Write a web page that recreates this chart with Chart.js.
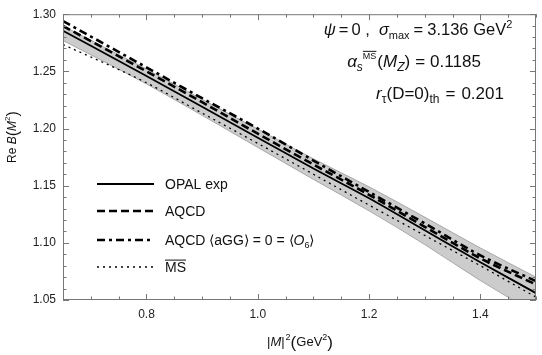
<!DOCTYPE html>
<html>
<head>
<meta charset="utf-8">
<script src="https://cdn.jsdelivr.net/npm/chart.js@4"></script>
<style>
  html, body { margin: 0; padding: 0; background: #fff; }
  #caixa { width: 542px; height: 355px; }
</style>
</head>
<body>
<div id="caixa"><canvas id="graficoB"></canvas></div>
<script>
// valores
const xValores = [0.65, 0.8, 0.9, 1.0, 1.1, 1.2, 1.3, 1.4, 1.5];
const opalExp  = [1.2855, 1.246, 1.219, 1.192, 1.165, 1.139, 1.111, 1.083, 1.056];
const aqcd     = [1.2897, 1.250, 1.223, 1.1955, 1.1685, 1.142, 1.114, 1.0865, 1.0635];
const aqcdZero = [1.294, 1.2535, 1.2265, 1.200, 1.172, 1.1445, 1.117, 1.089, 1.0665];
const msBar    = [1.2735, 1.240, 1.2135, 1.187, 1.160, 1.133, 1.1065, 1.080, 1.0525];
const faixaSup = [1.2897, 1.252, 1.2255, 1.1995, 1.1735, 1.149, 1.1225, 1.0955, 1.0700];
const faixaInf = [1.2770, 1.239, 1.2115, 1.1835, 1.1555, 1.128, 1.0985, 1.0670, 1.0380];
const xTicks = [0.8, 1.0, 1.2, 1.4];
const yTicks = [1.05, 1.10, 1.15, 1.20, 1.25, 1.30];

const FONTE = '"Liberation Sans", Arial, Helvetica, sans-serif';

function pontos(ys) {
    return xValores.map((x, i) => ({ x: x, y: ys[i] }));
}

// desenha texto com partes em itálico, índices e barras
function textoRico(ctx, partes, x, y, alinhar) {
    let total = 0;
    partes.forEach(p => {
        ctx.font = (p.it ? 'italic ' : '') + p.tam + 'px ' + FONTE;
        total += ctx.measureText(p.t).width + (p.esp || 0);
    });
    if (alinhar === 'center') x -= total / 2;
    ctx.textAlign = 'left';
    ctx.textBaseline = 'alphabetic';
    partes.forEach(p => {
        ctx.font = (p.it ? 'italic ' : '') + p.tam + 'px ' + FONTE;
        const w = ctx.measureText(p.t).width;
        ctx.fillText(p.t, x, y + (p.dy || 0));
        if (p.barra) {
            ctx.save();
            ctx.lineWidth = 1;
            ctx.beginPath();
            ctx.moveTo(x, y + (p.dy || 0) - p.tam * 0.85);
            ctx.lineTo(x + w, y + (p.dy || 0) - p.tam * 0.85);
            ctx.stroke();
            ctx.restore();
        }
        x += w + (p.esp || 0);
    });
}

const pluginMoldura = {
    id: 'moldura',
    afterDraw(chart) {
        const ctx = chart.ctx;
        const a = chart.chartArea;
        const sx = chart.scales.x, sy = chart.scales.y;
        ctx.save();
        ctx.strokeStyle = '#777';
        ctx.lineWidth = 1;
        ctx.strokeRect(a.left + 0.5, a.top + 0.5, a.right - a.left - 1, a.bottom - a.top - 1);
        ctx.beginPath();
        for (let v = 0.65; v <= 1.5001; v += 0.05) {
            const px = Math.round(sx.getPixelForValue(v)) + 0.5;
            const maior = xTicks.some(t => Math.abs(t - v) < 1e-6);
            const l = maior ? 6 : 3.5;
            ctx.moveTo(px, a.bottom); ctx.lineTo(px, a.bottom - l);
            ctx.moveTo(px, a.top); ctx.lineTo(px, a.top + l);
        }
        for (let v = 1.05; v <= 1.3001; v += 0.01) {
            const py = Math.round(sy.getPixelForValue(v)) + 0.5;
            const maior = yTicks.some(t => Math.abs(t - v) < 1e-6);
            const l = maior ? 6 : 3.5;
            ctx.moveTo(a.left, py); ctx.lineTo(a.left + l, py);
            ctx.moveTo(a.right, py); ctx.lineTo(a.right - l, py);
        }
        ctx.stroke();

        ctx.fillStyle = '#111';
        ctx.strokeStyle = '#111';
        // títulos dos eixos
        textoRico(ctx, [
            { t: '|', tam: 13 }, { t: 'M', tam: 13, it: true }, { t: '|', tam: 13, esp: 1 },
            { t: '2', tam: 9, dy: -6 }, { t: '(', tam: 17, dy: 2 },
            { t: 'GeV', tam: 13 }, { t: '2', tam: 9, dy: -6 }, { t: ')', tam: 17, dy: 2 }
        ], 300, 346, 'center');

        ctx.save();
        ctx.translate(12, 137);
        ctx.rotate(-Math.PI / 2);
        textoRico(ctx, [
            { t: 'Re ', tam: 12 }, { t: 'B', tam: 12, it: true },
            { t: '(', tam: 16, dy: 2 }, { t: 'M', tam: 12, it: true },
            { t: '2', tam: 8, dy: -6 }, { t: ')', tam: 16, dy: 2 }
        ], 0, 4, 'center');
        ctx.restore();

        // anotações
        textoRico(ctx, [
            { t: 'ψ', tam: 16.5, it: true, esp: 3 }, { t: '=', tam: 16.5, esp: 3 }, { t: '0 ,  ', tam: 16.5 },
            { t: 'σ', tam: 16.5, it: true }, { t: 'max', tam: 11, dy: 4, esp: 4 },
            { t: '=', tam: 16.5, esp: 4 }, { t: '3.136 GeV', tam: 16.5 }, { t: '2', tam: 11, dy: -7 }
        ], 418, 35, 'center');
        textoRico(ctx, [
            { t: 'α', tam: 17, it: true }, { t: 's', tam: 12, it: true, dy: 4 },
            { t: 'MS', tam: 9, dy: -8, barra: true, esp: 1 },
            { t: '(', tam: 17 }, { t: 'M', tam: 17, it: true }, { t: 'Z', tam: 12, it: true, dy: 4 },
            { t: ')', tam: 17, esp: 5 }, { t: '=', tam: 17, esp: 5 }, { t: '0.1185', tam: 17 }
        ], 414, 67, 'center');
        textoRico(ctx, [
            { t: 'r', tam: 17, it: true }, { t: 'τ', tam: 12, dy: 4 },
            { t: '(D=0)', tam: 17 }, { t: 'th', tam: 12, dy: 4, esp: 6 },
            { t: '=', tam: 17, esp: 6 }, { t: '0.201', tam: 17 }
        ], 440, 99, 'center');

        // legenda
        const rotulos = [
            [{ t: 'OPAL exp', tam: 14 }],
            [{ t: 'AQCD', tam: 14 }],
            [{ t: 'AQCD ⟨aGG⟩ = 0 = ⟨', tam: 14 }, { t: 'O', tam: 14, it: true },
             { t: '6', tam: 9, dy: 3 }, { t: '⟩', tam: 14 }],
            [{ t: 'MS', tam: 14, barra: true }]
        ];
        const linhasY = [184, 211, 240, 267];
        rotulos.forEach((r, i) => {
            const ds = chart.data.datasets[i];
            ctx.save();
            ctx.strokeStyle = ds.borderColor;
            ctx.lineWidth = ds.borderWidth;
            ctx.setLineDash(ds.borderDash || []);
            ctx.beginPath();
            ctx.moveTo(97, linhasY[i]);
            ctx.lineTo(154, linhasY[i]);
            ctx.stroke();
            ctx.restore();
            textoRico(ctx, r, 165, linhasY[i] + 5);
        });
        ctx.restore();
    }
};

function criarGrafico() {
    const ctx = document.getElementById('graficoB').getContext('2d');
    window.graficoB = new Chart(ctx, {
        type: 'line',
        data: {
            datasets: [
                { label: 'OPAL exp', data: pontos(opalExp), borderColor: '#000', borderWidth: 1.8, order: 1 },
                { label: 'AQCD', data: pontos(aqcd), borderColor: '#000', borderWidth: 2.6, borderDash: [8, 4], order: 1 },
                { label: 'AQCD <aGG> = 0 = <O6>', data: pontos(aqcdZero), borderColor: '#000', borderWidth: 2.6, borderDash: [8, 4, 3, 4], order: 1 },
                { label: 'MS', data: pontos(msBar), borderColor: '#000', borderWidth: 1.3, borderDash: [2, 4], order: 1 },
                { label: 'faixa inf', data: pontos(faixaInf), borderColor: '#999', borderWidth: 0.8, fill: false, order: 2 },
                { label: 'faixa sup', data: pontos(faixaSup), borderColor: '#999', borderWidth: 0.8, fill: '-1', backgroundColor: '#cccccc', order: 2 }
            ]
        },
        options: {
            responsive: true,
            maintainAspectRatio: false,
            animation: false,
            devicePixelRatio: 1,
            layout: { padding: { left: 0, right: 6, top: 8, bottom: 0 } },
            elements: {
                point: { radius: 0 },
                line: { cubicInterpolationMode: 'monotone' }
            },
            plugins: {
                legend: { display: false },
                tooltip: { enabled: false }
            },
            scales: {
                x: {
                    type: 'linear',
                    min: 0.65,
                    max: 1.5,
                    grid: { display: false, drawTicks: false },
                    border: { display: false },
                    afterBuildTicks: s => { s.ticks = xTicks.map(v => ({ value: v })); },
                    afterFit: s => { s.height = 55; },
                    ticks: {
                        padding: 7,
                        maxRotation: 0,
                        autoSkip: false,
                        color: '#222',
                        font: { family: FONTE, size: 12 },
                        callback: v => v.toFixed(1)
                    }
                },
                y: {
                    type: 'linear',
                    min: 1.05,
                    max: 1.30,
                    grid: { display: false, drawTicks: false },
                    border: { display: false },
                    afterBuildTicks: s => { s.ticks = yTicks.map(v => ({ value: v })); },
                    afterFit: s => { s.width = 63; },
                    ticks: {
                        padding: 7,
                        autoSkip: false,
                        color: '#222',
                        font: { family: FONTE, size: 12 },
                        callback: v => v.toFixed(2)
                    }
                }
            }
        },
        plugins: [pluginMoldura]
    });
}

window.addEventListener('DOMContentLoaded', criarGrafico);
</script>
</body>
</html>
